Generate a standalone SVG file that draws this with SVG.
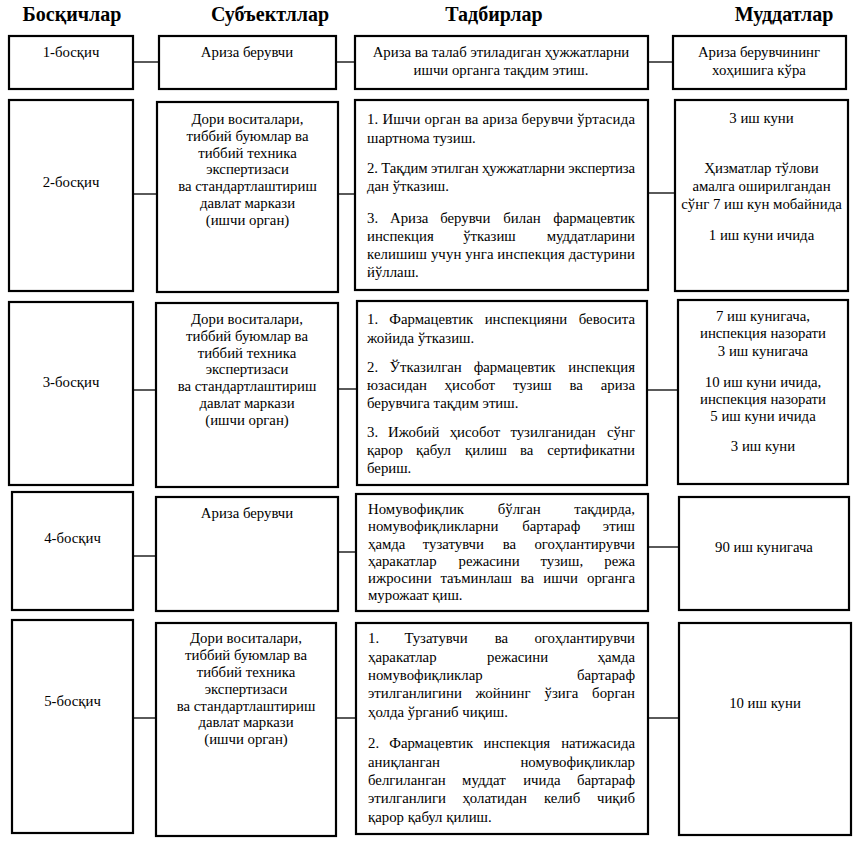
<svg xmlns="http://www.w3.org/2000/svg" width="856" height="843" viewBox="0 0 856 843" font-family="'Liberation Serif', 'DejaVu Serif', serif">
<style>
.bx{fill:#fff;stroke:#000;stroke-width:2.2}
.ln{stroke:#000;stroke-width:1.3;fill:none}
.h{font-family:'Liberation Serif','DejaVu Serif',serif;font-size:20px;font-weight:bold;text-anchor:middle;fill:#000}
.t{font-family:'Liberation Serif','DejaVu Serif',serif;font-size:14.8px;fill:#000}
.c{text-anchor:middle}
.e{text-anchor:end}
</style>
<rect width="856" height="843" fill="#fff"/>
<g id="headers">
<text class="h" x="72" y="21">Босқичлар</text>
<text class="h" x="270" y="21">Субъектллар</text>
<text class="h" x="494" y="21">Тадбирлар</text>
<text class="h" x="784" y="21">Муддатлар</text>
</g>
<g id="connectors">
<line class="ln" x1="133" y1="62" x2="159" y2="62"/>
<line class="ln" x1="336" y1="62" x2="355" y2="62"/>
<line class="ln" x1="648" y1="62" x2="673" y2="62"/>
<line class="ln" x1="133" y1="194" x2="157" y2="194"/>
<line class="ln" x1="338" y1="194" x2="355" y2="194"/>
<line class="ln" x1="648" y1="193" x2="675" y2="193"/>
<line class="ln" x1="133" y1="390" x2="156" y2="390"/>
<line class="ln" x1="338" y1="389" x2="357" y2="389"/>
<line class="ln" x1="647" y1="390" x2="678" y2="390"/>
<line class="ln" x1="133" y1="556" x2="156" y2="556"/>
<line class="ln" x1="338" y1="552" x2="356" y2="552"/>
<line class="ln" x1="648" y1="547" x2="679" y2="547"/>
<line class="ln" x1="133" y1="718" x2="156" y2="718"/>
<line class="ln" x1="336" y1="718" x2="356" y2="718"/>
<line class="ln" x1="648" y1="718" x2="679" y2="718"/>
</g>
<g id="r1-stage"><rect class="bx" x="9" y="36" width="124" height="53"/><text class="t c" x="71" y="57">1-босқич</text></g>
<g id="r1-subject"><rect class="bx" x="159" y="36" width="177" height="53"/><text class="t c" x="247" y="57">Ариза берувчи</text></g>
<g id="r1-action"><rect class="bx" x="355" y="36" width="293" height="53"/>
<text class="t c" x="501" y="57">Ариза ва талаб этиладиган ҳужжатларни</text>
<text class="t c" x="501" y="75">ишчи органга тақдим этиш.</text></g>
<g id="r1-term"><rect class="bx" x="673" y="36" width="173" height="53"/>
<text class="t c" x="759" y="57">Ариза берувчининг</text>
<text class="t c" x="759" y="75">хоҳишига кўра</text></g>

<g id="r2-stage"><rect class="bx" x="9" y="100" width="124" height="191"/><text class="t c" x="71" y="187">2-босқич</text></g>
<g id="r2-subject"><rect class="bx" x="157" y="102" width="181" height="190"/>
<text class="t c" x="247.5" y="124">Дори воситалари,</text>
<text class="t c" x="247.5" y="141">тиббий буюмлар ва</text>
<text class="t c" x="247.5" y="158">тиббий техника</text>
<text class="t c" x="247.5" y="174">экспертизаси</text>
<text class="t c" x="247.5" y="191">ва стандартлаштириш</text>
<text class="t c" x="247.5" y="208">давлат маркази</text>
<text class="t c" x="247.5" y="225">(ишчи орган)</text></g>
<g id="r2-action"><rect class="bx" x="355" y="100" width="293" height="190"/>
<text class="t" x="367" y="124" textLength="268" lengthAdjust="spacing">1. Ишчи орган ва ариза берувчи ўртасида</text>
<text class="t" x="367" y="143">шартнома тузиш.</text>
<text class="t" x="367" y="173" textLength="268" lengthAdjust="spacing">2. Тақдим этилган ҳужжатларни экспертиза</text>
<text class="t" x="367" y="191">дан ўтказиш.</text>
<text class="t" y="223"><tspan x="367">3.</tspan><tspan x="390">Ариза</tspan><tspan x="440.2">берувчи</tspan><tspan x="503.3">билан</tspan><tspan x="635" text-anchor="end">фармацевтик</tspan></text>
<text class="t" y="241"><tspan x="367">инспекция</tspan><tspan x="463.2">ўтказиш</tspan><tspan x="635" text-anchor="end">муддатларини</tspan></text>
<text class="t" x="367" y="259" textLength="268" lengthAdjust="spacing">келишиш учун унга инспекция дастурини</text>
<text class="t" x="367" y="277">йўллаш.</text></g>
<g id="r2-term"><rect class="bx" x="675" y="100" width="173" height="191"/>
<text class="t c" x="761.5" y="123">3 иш куни</text>
<text class="t c" x="761.5" y="173">Ҳизматлар тўлови</text>
<text class="t c" x="761.5" y="191">амалга оширилгандан</text>
<text class="t c" x="761.5" y="209">сўнг 7 иш кун мобайнида</text>
<text class="t c" x="761.5" y="240">1 иш куни ичида</text></g>

<g id="r3-stage"><rect class="bx" x="9" y="302" width="124" height="183"/><text class="t c" x="71" y="387">3-босқич</text></g>
<g id="r3-subject"><rect class="bx" x="156" y="303" width="182" height="184"/>
<text class="t c" x="247" y="324">Дори воситалари,</text>
<text class="t c" x="247" y="341">тиббий буюмлар ва</text>
<text class="t c" x="247" y="358">тиббий техника</text>
<text class="t c" x="247" y="374">экспертизаси</text>
<text class="t c" x="247" y="391">ва стандартлаштириш</text>
<text class="t c" x="247" y="408">давлат маркази</text>
<text class="t c" x="247" y="425">(ишчи орган)</text></g>
<g id="r3-action"><rect class="bx" x="357" y="301" width="290" height="184"/>
<text class="t" y="324"><tspan x="367">1.</tspan><tspan x="389.3">Фармацевтик</tspan><tspan x="484.7">инспекцияни</tspan><tspan x="635" text-anchor="end">бевосита</tspan></text>
<text class="t" x="367" y="343">жойида ўтказиш.</text>
<text class="t" y="372"><tspan x="367">2.</tspan><tspan x="389.6">Ўтказилган</tspan><tspan x="473.7">фармацевтик</tspan><tspan x="635" text-anchor="end">инспекция</tspan></text>
<text class="t" y="390"><tspan x="367">юзасидан</tspan><tspan x="444.6">ҳисобот</tspan><tspan x="512.9">тузиш</tspan><tspan x="569.5">ва</tspan><tspan x="635" text-anchor="end">ариза</tspan></text>
<text class="t" x="367" y="408">берувчига тақдим этиш.</text>
<text class="t" y="437"><tspan x="367">3.</tspan><tspan x="388">Ижобий</tspan><tspan x="449.7">ҳисобот</tspan><tspan x="510.4">тузилганидан</tspan><tspan x="635" text-anchor="end">сўнг</tspan></text>
<text class="t" y="455"><tspan x="367">қарор</tspan><tspan x="416">қабул</tspan><tspan x="465.1">қилиш</tspan><tspan x="519.9">ва</tspan><tspan x="635" text-anchor="end">сертификатни</tspan></text>
<text class="t" x="367" y="473">бериш.</text></g>
<g id="r3-term"><rect class="bx" x="678" y="300" width="170" height="184"/>
<text class="t c" x="763" y="321">7 иш кунигача,</text>
<text class="t c" x="763" y="338">инспекция назорати</text>
<text class="t c" x="763" y="356">3 иш кунигача</text>
<text class="t c" x="763" y="387">10 иш куни ичида,</text>
<text class="t c" x="763" y="404">инспекция назорати</text>
<text class="t c" x="763" y="421">5 иш куни ичида</text>
<text class="t c" x="763" y="451">3 иш куни</text></g>

<g id="r4-stage"><rect class="bx" x="12" y="492" width="121" height="118"/><text class="t c" x="72.5" y="543">4-босқич</text></g>
<g id="r4-subject"><rect class="bx" x="156" y="497" width="182" height="114"/><text class="t c" x="247" y="518">Ариза берувчи</text></g>
<g id="r4-action"><rect class="bx" x="356" y="494" width="292" height="117"/>
<text class="t" y="514"><tspan x="368">Номувофиқлик</tspan><tspan x="497.8">бўлган</tspan><tspan x="635" text-anchor="end">тақдирда,</tspan></text>
<text class="t" y="531"><tspan x="368">номувофиқликларни</tspan><tspan x="522.2">бартараф</tspan><tspan x="635" text-anchor="end">этиш</tspan></text>
<text class="t" y="549"><tspan x="368">ҳамда</tspan><tspan x="422.8">тузатувчи</tspan><tspan x="502.7">ва</tspan><tspan x="635" text-anchor="end">огоҳлантирувчи</tspan></text>
<text class="t" y="566"><tspan x="368">ҳаракатлар</tspan><tspan x="458.5">режасини</tspan><tspan x="540.6">тузиш,</tspan><tspan x="635" text-anchor="end">режа</tspan></text>
<text class="t" y="583"><tspan x="368">ижросини</tspan><tspan x="440.4">таъминлаш</tspan><tspan x="520.6">ва</tspan><tspan x="543.3">ишчи</tspan><tspan x="635" text-anchor="end">органга</tspan></text>
<text class="t" x="368" y="600">мурожаат қиш.</text></g>
<g id="r4-term"><rect class="bx" x="679" y="497" width="170" height="113"/><text class="t c" x="764" y="552">90 иш кунигача</text></g>

<g id="r5-stage"><rect class="bx" x="12" y="620" width="121" height="213"/><text class="t c" x="72.5" y="706">5-босқич</text></g>
<g id="r5-subject"><rect class="bx" x="156" y="623" width="180" height="213"/>
<text class="t c" x="246" y="643">Дори воситалари,</text>
<text class="t c" x="246" y="660">тиббий буюмлар ва</text>
<text class="t c" x="246" y="677">тиббий техника</text>
<text class="t c" x="246" y="694">экспертизаси</text>
<text class="t c" x="246" y="711">ва стандартлаштириш</text>
<text class="t c" x="246" y="727">давлат маркази</text>
<text class="t c" x="246" y="744">(ишчи орган)</text></g>
<g id="r5-action"><rect class="bx" x="356" y="623" width="292" height="211"/>
<text class="t" y="643"><tspan x="368">1.</tspan><tspan x="404.4">Тузатувчи</tspan><tspan x="494.8">ва</tspan><tspan x="635" text-anchor="end">огоҳлантирувчи</tspan></text>
<text class="t" y="662"><tspan x="368">ҳаракатлар</tspan><tspan x="487">режасини</tspan><tspan x="635" text-anchor="end">ҳамда</tspan></text>
<text class="t" y="680"><tspan x="368">номувофиқликлар</tspan><tspan x="635" text-anchor="end">бартараф</tspan></text>
<text class="t" y="698"><tspan x="368">этилганлигини</tspan><tspan x="475.5">жойнинг</tspan><tspan x="544.6">ўзига</tspan><tspan x="635" text-anchor="end">борган</tspan></text>
<text class="t" x="368" y="717">ҳолда ўрганиб чиқиш.</text>
<text class="t" y="748"><tspan x="368">2.</tspan><tspan x="389.2">Фармацевтик</tspan><tspan x="483.4">инспекция</tspan><tspan x="635" text-anchor="end">натижасида</tspan></text>
<text class="t" y="767"><tspan x="368">аниқланган</tspan><tspan x="635" text-anchor="end">номувофиқликлар</tspan></text>
<text class="t" y="785"><tspan x="368">белгиланган</tspan><tspan x="462.1">муддат</tspan><tspan x="523.2">ичида</tspan><tspan x="635" text-anchor="end">бартараф</tspan></text>
<text class="t" y="803"><tspan x="368">этилганлиги</tspan><tspan x="462.4">ҳолатидан</tspan><tspan x="544">келиб</tspan><tspan x="635" text-anchor="end">чиқиб</tspan></text>
<text class="t" x="368" y="822">қарор қабул қилиш.</text></g>
<g id="r5-term"><rect class="bx" x="679" y="623" width="172" height="212"/><text class="t c" x="765" y="708">10 иш куни</text></g>
</svg>
